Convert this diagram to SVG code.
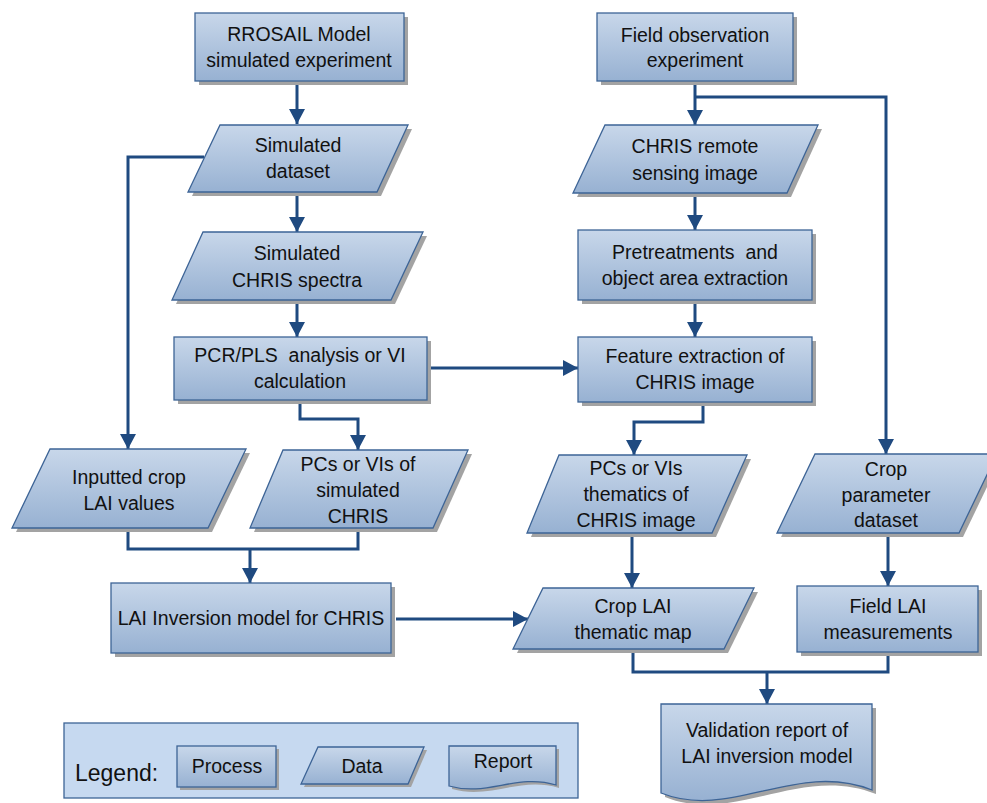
<svg xmlns="http://www.w3.org/2000/svg" width="987" height="803" viewBox="0 0 987 803">
<defs>
<linearGradient id="g" x1="0" y1="0" x2="0" y2="1">
<stop offset="0" stop-color="#c8d7ea"/>
<stop offset="1" stop-color="#97b1d2"/>
</linearGradient>
<marker id="arr" markerUnits="userSpaceOnUse" markerWidth="16" markerHeight="16" refX="15" refY="8" orient="auto">
<path d="M0,0 L15,8 L0,16 z" fill="#1f4a80"/>
</marker>
</defs>
<style>
.s{fill:url(#g);stroke:#3d6496;stroke-width:1.3}
.sh{fill:#a3a3a3}
.t{font-family:"Liberation Sans",Arial,sans-serif;font-size:19.5px;fill:#111;text-anchor:middle;dominant-baseline:central;white-space:pre}
.c{fill:none;stroke:#1f4a80;stroke-width:3}
.a{marker-end:url(#arr)}
</style>
<rect x="0" y="0" width="987" height="803" fill="#fff"/>

<g id="connectors">
<path class="c a" d="M297,81 V124"/>
<path class="c a" d="M297,192 V232"/>
<path class="c a" d="M297,300 V337"/>
<path class="c a" d="M204,157 H128 V449"/>
<path class="c a" d="M427,368 H578"/>
<path class="c a" d="M300,400 V419 H358 V450"/>
<path class="c" d="M128,528 V549 H358 V528"/>
<path class="c a" d="M250,549 V583"/>
<path class="c a" d="M396,619 H528"/>
<path class="c a" d="M695,81 V125"/>
<path class="c a" d="M695,97 H886 V454"/>
<path class="c a" d="M695,193 V230"/>
<path class="c a" d="M695,300 V337"/>
<path class="c a" d="M703,402 V422 H634 V455"/>
<path class="c a" d="M632,533 V588"/>
<path class="c a" d="M888,533 V586"/>
<path class="c" d="M633,649 V672 H888 V652"/>
<path class="c a" d="M767,672 V704"/>
</g>

<g id="n1">
<rect class="sh" x="199" y="17" width="209" height="68"/>
<rect class="s" x="195" y="13" width="209" height="68"/>
<text class="t" x="299" y="34">RROSAIL Model</text>
<text class="t" x="299" y="60">simulated experiment</text>
</g>
<g id="n2">
<rect class="sh" x="601" y="17" width="196" height="68"/>
<rect class="s" x="597" y="13" width="196" height="68"/>
<text class="t" x="695" y="35">Field observation</text>
<text class="t" x="695" y="60">experiment</text>
</g>
<g id="n3">
<polygon class="sh" points="224,129 412,129 381,196 192,196"/>
<polygon class="s" points="220,125 408,125 377,192 188,192"/>
<text class="t" x="298" y="145">Simulated</text>
<text class="t" x="298" y="171">dataset</text>
</g>
<g id="n4">
<polygon class="sh" points="609,129 822,129 791,197 577,197"/>
<polygon class="s" points="605,125 818,125 787,193 573,193"/>
<text class="t" x="695" y="146">CHRIS remote</text>
<text class="t" x="695" y="173">sensing image</text>
</g>
<g id="n5">
<polygon class="sh" points="207,236 427,236 395,304 176,304"/>
<polygon class="s" points="203,232 423,232 391,300 172,300"/>
<text class="t" x="297" y="253">Simulated</text>
<text class="t" x="297" y="280">CHRIS spectra</text>
</g>
<g id="n6">
<rect class="sh" x="582" y="234" width="234" height="70"/>
<rect class="s" x="578" y="230" width="234" height="70"/>
<text class="t" x="695" y="252">Pretreatments  and</text>
<text class="t" x="695" y="278">object area extraction</text>
</g>
<g id="n7">
<rect class="sh" x="178" y="341" width="253" height="63"/>
<rect class="s" x="174" y="337" width="253" height="63"/>
<text class="t" x="300" y="355">PCR/PLS  analysis or VI</text>
<text class="t" x="300" y="381">calculation</text>
</g>
<g id="n8">
<rect class="sh" x="582" y="341" width="234" height="65"/>
<rect class="s" x="578" y="337" width="234" height="65"/>
<text class="t" x="695" y="356">Feature extraction of</text>
<text class="t" x="695" y="382">CHRIS image</text>
</g>
<g id="n9">
<polygon class="sh" points="54,453 250,453 212,532 16,532"/>
<polygon class="s" points="50,449 246,449 208,528 12,528"/>
<text class="t" x="129" y="477">Inputted crop</text>
<text class="t" x="129" y="503">LAI values</text>
</g>
<g id="n10">
<polygon class="sh" points="287,454 472,454 437,532 254,532"/>
<polygon class="s" points="283,450 468,450 433,528 250,528"/>
<text class="t" x="358" y="464">PCs or VIs of</text>
<text class="t" x="358" y="490">simulated</text>
<text class="t" x="358" y="516">CHRIS</text>
</g>
<g id="n11">
<polygon class="sh" points="563,459 751,459 716,537 531,537"/>
<polygon class="s" points="559,455 747,455 712,533 527,533"/>
<text class="t" x="636" y="468">PCs or VIs</text>
<text class="t" x="636" y="494">thematics of</text>
<text class="t" x="636" y="520">CHRIS image</text>
</g>
<g id="n12">
<polygon class="sh" points="819,458 1001,458 963,537 781,537"/>
<polygon class="s" points="815,454 997,454 959,533 777,533"/>
<text class="t" x="886" y="469">Crop</text>
<text class="t" x="886" y="495">parameter</text>
<text class="t" x="886" y="520">dataset</text>
</g>
<g id="n13">
<rect class="sh" x="115" y="587" width="280" height="70"/>
<rect class="s" x="111" y="583" width="280" height="70"/>
<text class="t" x="251" y="618">LAI Inversion model for CHRIS</text>
</g>
<g id="n14">
<polygon class="sh" points="547,592 758,592 728,653 517,653"/>
<polygon class="s" points="543,588 754,588 724,649 513,649"/>
<text class="t" x="633" y="606">Crop LAI</text>
<text class="t" x="633" y="632">thematic map</text>
</g>
<g id="n15">
<rect class="sh" x="801" y="590" width="181" height="66"/>
<rect class="s" x="797" y="586" width="181" height="66"/>
<text class="t" x="888" y="606">Field LAI</text>
<text class="t" x="888" y="632">measurements</text>
</g>
<g id="n16">
<path class="sh" d="M665,708 H876 V794 C800,764 735,825 665,797 Z"/>
<path class="s" d="M661,704 H872 V790 C796,760 731,821 661,793 Z"/>
<text class="t" x="767" y="730">Validation report of</text>
<text class="t" x="767" y="756">LAI inversion model</text>
</g>

<g id="legend">
<rect x="64" y="723" width="514" height="75" fill="#c6d9f0" stroke="#3d6496" stroke-width="1.3"/>
<text x="75" y="781" font-family="Liberation Sans,Arial,sans-serif" font-size="23" fill="#111">Legend:</text>
<g id="leg-process">
<rect class="sh" x="180" y="749" width="99" height="41"/>
<rect class="s" x="177" y="746" width="99" height="41"/>
<text class="t" x="227" y="766">Process</text>
</g>
<g id="leg-data">
<polygon class="sh" points="321,750 427,750 411,787 304,787"/>
<polygon class="s" points="318,747 424,747 408,784 301,784"/>
<text class="t" x="362" y="766">Data</text>
</g>
<g id="leg-report">
<path class="sh" d="M452,749 H559 V788 C520,776 490,800 452,789 Z"/>
<path class="s" d="M449,746 H556 V785 C517,773 487,797 449,786 Z"/>
<text class="t" x="503" y="761">Report</text>
</g>
</g>
</svg>
